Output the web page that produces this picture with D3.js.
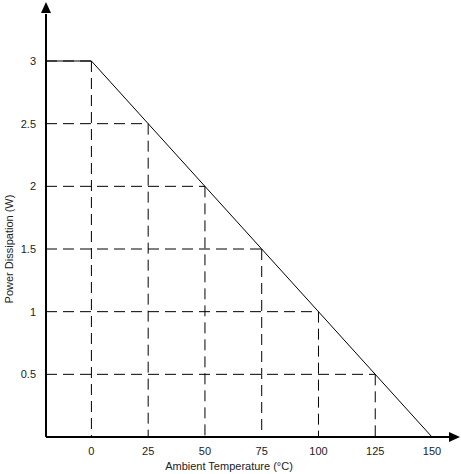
<!DOCTYPE html>
<html lang="en">
<head>
  <meta charset="UTF-8" />
  <script src="https://d3js.org/d3.v7.min.js"></script>
  <style>
    body { margin: 0; background: #fff; }
    text { font-family: Arial, "Liberation Sans", sans-serif; font-size: 11px; fill: #222; }
  </style>
</head>
<body>
  <svg width="461" height="474"></svg>
  <script>
    // Derating curve data
    const curveTemps = [-20, 0, 150];
    const curvePower = [3, 3, 0];
    const xTicks = [0, 25, 50, 75, 100, 125, 150];
    const yTicks = [0.5, 1, 1.5, 2, 2.5, 3];
    const gridTemps = [0, 25, 50, 75, 100, 125];
    const gridPower = [3, 2.5, 2, 1.5, 1, 0.5];

    const svg = d3.select("svg");
    const x = d3.scaleLinear().domain([-20, 150]).range([46, 432]);
    const y = d3.scaleLinear().domain([0, 3]).range([437, 61]);

    // dashed guides
    const dash = "11,6";
    svg.selectAll("line.v").data(gridTemps).enter().append("line")
      .attr("x1", d => x(d)).attr("x2", d => x(d))
      .attr("y1", d => y(Math.min(3, 3 - d / 50))).attr("y2", y(0))
      .attr("stroke", "#000").attr("stroke-dasharray", dash);
    svg.selectAll("line.h").data(gridPower).enter().append("line")
      .attr("x1", x(-20)).attr("x2", d => x((3 - d) * 50))
      .attr("y1", d => y(d)).attr("y2", d => y(d))
      .attr("stroke", "#000").attr("stroke-dasharray", dash);

    // curve
    const pts = curveTemps.map((t, i) => [x(t), y(curvePower[i])]);
    svg.append("path").attr("d", d3.line()(pts))
      .attr("fill", "none").attr("stroke", "#000").attr("stroke-width", 1);

    // axes with arrows
    svg.append("line").attr("x1", 46).attr("x2", 452).attr("y1", 437).attr("y2", 437)
      .attr("stroke", "#000").attr("stroke-width", 2);
    svg.append("line").attr("x1", 46).attr("x2", 46).attr("y1", 437).attr("y2", 14)
      .attr("stroke", "#000").attr("stroke-width", 2);
    svg.append("path").attr("d", "M460,437 L449,432 L449,442 Z");
    svg.append("path").attr("d", "M46,2 L41,13 L51,13 Z");

    svg.selectAll("text.xt").data(xTicks).enter().append("text")
      .attr("x", d => x(d)).attr("y", 455).attr("text-anchor", "middle").text(d => d);
    svg.selectAll("text.yt").data(yTicks).enter().append("text")
      .attr("x", 36).attr("y", d => y(d) + 4).attr("text-anchor", "end").text(d => d);

    svg.append("text").attr("x", 229).attr("y", 470).attr("text-anchor", "middle")
      .text("Ambient Temperature (°C)");
    svg.append("text").attr("transform", "translate(13,249) rotate(-90)")
      .attr("text-anchor", "middle").text("Power Dissipation (W)");
  </script>
</body>
</html>
